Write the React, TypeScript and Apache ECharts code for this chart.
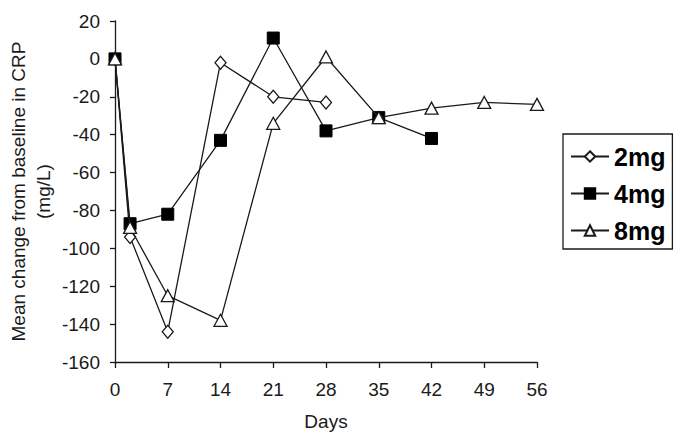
import React, { useEffect, useRef } from "react";
import * as echarts from "echarts";

const seriesNames = ["2mg", "4mg", "8mg"];
const days2mg = [0, 2, 7, 14, 21, 28];
const values2mg = [0, -94, -144, -2, -20, -23];
const days4mg = [0, 2, 7, 14, 21, 28, 35, 42];
const values4mg = [0, -87, -82, -43, 11, -38, -31, -42];
const days8mg = [0, 2, 7, 14, 21, 28, 35, 42, 49, 56];
const values8mg = [0, -89, -125, -138, -34, 1, -31, -26, -23, -24];
const xTicks = [0, 7, 14, 21, 28, 35, 42, 49, 56];
const yTicks = [-160, -140, -120, -100, -80, -60, -40, -20, 0, 20];

const FONT = "'Liberation Sans', Arial, Helvetica, sans-serif";
const INK = "#1a1a1a";

function pairs(xs: number[], ys: number[]) {
  return xs.map((x, i) => [x, ys[i]]);
}

export default function App() {
  const ref = useRef<HTMLDivElement>(null);
  useEffect(() => {
    document.body.style.margin = "0";
    if (!ref.current) return;
    const chart = echarts.init(ref.current, undefined, { renderer: "svg" });
    const lineStyle = { color: INK, width: 1.3 };
    chart.setOption({
      animation: false,
      backgroundColor: "#ffffff",
      grid: {
        left: 115,
        right: 148,
        top: 21,
        bottom: 78,
        containLabel: false,
        outerBoundsMode: "none",
      },
      xAxis: {
        type: "value",
        min: xTicks[0],
        max: xTicks[xTicks.length - 1],
        interval: 7,
        name: "Days",
        nameLocation: "middle",
        nameGap: 50,
        nameMoveOverlap: false,
        nameTextStyle: { color: INK, fontSize: 19, fontFamily: FONT },
        axisLine: { show: true, onZero: false, lineStyle: { color: INK, width: 1.3 } },
        axisTick: { show: true, length: 6, lineStyle: { color: INK, width: 1.3 } },
        axisLabel: { color: INK, fontSize: 19, fontFamily: FONT, margin: 18 },
        splitLine: { show: false },
      },
      yAxis: {
        type: "value",
        min: yTicks[0],
        max: yTicks[yTicks.length - 1],
        interval: 20,
        name: "Mean change from baseline in CRP\n(mg/L)",
        nameLocation: "middle",
        nameRotate: 90,
        nameGap: 59,
        nameMoveOverlap: false,
        nameTextStyle: { color: INK, fontSize: 19, fontFamily: FONT, lineHeight: 25 },
        axisLine: { show: true, onZero: false, lineStyle: { color: INK, width: 1.3 } },
        axisTick: { show: true, length: 5, lineStyle: { color: INK, width: 1.3 } },
        axisLabel: { color: INK, fontSize: 19, fontFamily: FONT, margin: 15 },
        splitLine: { show: false },
      },
      legend: {
        orient: "vertical",
        left: 563,
        top: 134,
        padding: [10, 7, 6, 7],
        itemGap: 12,
        itemWidth: 38,
        itemHeight: 13,
        borderColor: INK,
        borderWidth: 1.3,
        borderRadius: 0,
        textStyle: { color: "#000", fontSize: 25, fontWeight: "bold", fontFamily: FONT },
        data: seriesNames,
      },
      series: [
        {
          name: seriesNames[0],
          type: "line",
          data: pairs(days2mg, values2mg),
          symbol: "diamond",
          symbolSize: [11, 13],
          lineStyle,
          itemStyle: { color: "#ffffff", borderColor: INK, borderWidth: 1.3 },
          z: 2,
        },
        {
          name: seriesNames[1],
          type: "line",
          data: pairs(days4mg, values4mg),
          symbol: "rect",
          symbolSize: 12,
          lineStyle,
          itemStyle: { color: "#000000", borderColor: "#000000", borderWidth: 1 },
          z: 3,
        },
        {
          name: seriesNames[2],
          type: "line",
          data: pairs(days8mg, values8mg),
          symbol: "triangle",
          symbolSize: [13, 12],
          lineStyle,
          itemStyle: { color: "#ffffff", borderColor: INK, borderWidth: 1.3 },
          z: 4,
        },
      ],
    });
    return () => chart.dispose();
  }, []);
  return <div ref={ref} style={{ width: 685, height: 440 }} />;
}
